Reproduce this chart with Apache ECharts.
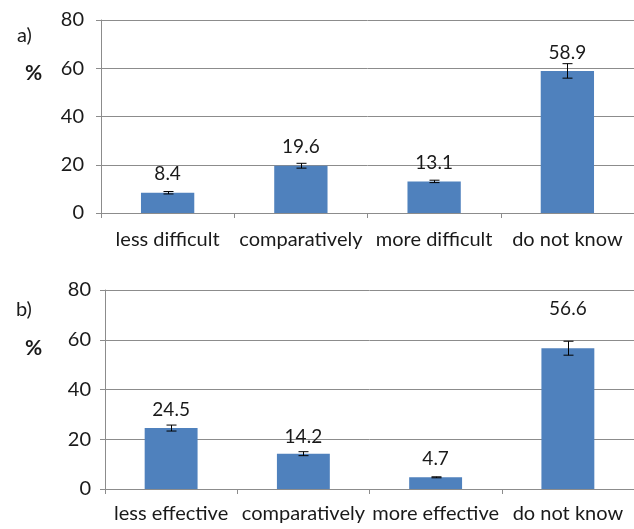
<!DOCTYPE html>
<html><head><meta charset="utf-8">
<script src="https://cdn.jsdelivr.net/npm/echarts@6/dist/echarts.min.js"></script>
<style>html,body{margin:0;padding:0;background:#fff}#c{width:634px;height:529px}</style>
</head><body><div id="c"></div>
<script>
const catsA = ['less difficult','comparatively','more difficult','do not know'];
const valsA = [8.4, 19.6, 13.1, 58.9];
const errA = [0.5, 1.0, 0.5, 3.0];
const catsB = ['less effective','comparatively','more effective','do not know'];
const valsB = [24.5, 14.2, 4.7, 56.6];
const errB = [1.2, 0.8, 0.2, 2.8];
const yTicks = [0, 20, 40, 60, 80];

const FONT = 'Lato';
const TXT = '#1a1a1a';
const GRID = '#8c8c8c';
const BAR = '#4f81bd';

function xAxis(cats, gi, margin){
  return {type:'category', gridIndex:gi, data:cats,
    axisLine:{lineStyle:{color:GRID,width:1}},
    axisTick:{show:true, length:5, lineStyle:{color:GRID}},
    axisLabel:{color:TXT, fontFamily:FONT, fontSize:20, margin:margin, interval:0}};
}
function yAxis(gi, margin){
  return {type:'value', gridIndex:gi, min:yTicks[0], max:yTicks[yTicks.length-1], interval:20,
    axisLine:{show:true, lineStyle:{color:GRID}},
    axisTick:{show:true, length:5, lineStyle:{color:GRID}},
    splitLine:{lineStyle:{color:GRID,width:1}},
    axisLabel:{color:TXT, fontFamily:FONT, fontSize:20, margin:margin}};
}
function bars(vals, gi, extra){
  return {type:'bar', xAxisIndex:gi, yAxisIndex:gi, barWidth:'40%',
    itemStyle:{color:BAR},
    data: vals.map((v,i)=>{
      const d = {value:v};
      if (extra && extra[i]) d.label = {distance: extra[i]};
      return d;
    }),
    label:{show:true, position:'top', distance:9, color:TXT, fontFamily:FONT, fontSize:19},
    z:2};
}
function errs(vals, err, gi){
  return {type:'custom', xAxisIndex:gi, yAxisIndex:gi, z:5,
    data: vals.map((v,i)=>[i, v-err[i], v+err[i]]),
    renderItem:function(params, api){
      const lo = api.coord([api.value(0), api.value(1)]);
      const hi = api.coord([api.value(0), api.value(2)]);
      const x = Math.round(lo[0])+0.5, hw=5;
      const st = {stroke:'#000', lineWidth:1};
      return {type:'group', children:[
        {type:'line', shape:{x1:x,y1:hi[1],x2:x,y2:lo[1]}, style:st},
        {type:'line', shape:{x1:x-hw,y1:hi[1],x2:x+hw,y2:hi[1]}, style:st},
        {type:'line', shape:{x1:x-hw,y1:lo[1],x2:x+hw,y2:lo[1]}, style:st}
      ]};
    }};
}

const chart = echarts.init(document.getElementById('c'));
chart.setOption({
  animation:false,
  backgroundColor:'#fff',
  grid:[
    {left:101, top:20, height:193, width:536},
    {left:105, top:290, height:199, width:532}
  ],
  xAxis:[xAxis(catsA,0,17), xAxis(catsB,1,15)],
  yAxis:[yAxis(0,17), yAxis(1,14)],
  series:[
    bars(valsA,0), errs(valsA,errA,0),
    bars(valsB,1,[null,7,null,30]), errs(valsB,errB,1)
  ],
  graphic:[
    {type:'text', left:17, top:26, style:{text:'a)', font:'20px '+FONT, fill:TXT}},
    {type:'text', left:25, top:63, style:{text:'%', font:'bold 21px '+FONT, fill:TXT}},
    {type:'text', left:16, top:300, style:{text:'b)', font:'20px '+FONT, fill:TXT}},
    {type:'text', left:25, top:338, style:{text:'%', font:'bold 21px '+FONT, fill:TXT}}
  ]
});
</script></body></html>
